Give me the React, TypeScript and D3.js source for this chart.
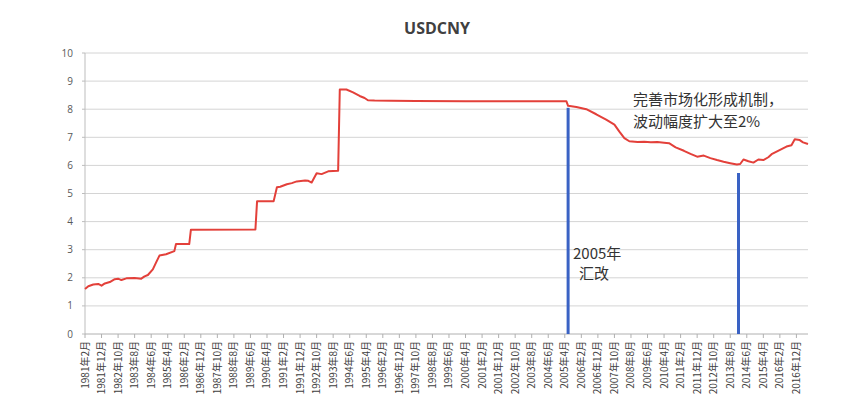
import { useMemo } from "react";
import { scaleLinear, line } from "d3";

const dates = [
  "1981-02", "1981-04", "1981-07", "1981-10", "1981-12", "1982-02", "1982-05", "1982-08",
  "1982-10", "1982-12", "1983-03", "1983-08", "1983-12", "1984-02", "1984-04", "1984-07",
  "1984-09", "1984-11", "1985-03", "1985-08", "1985-09", "1986-05", "1986-06", "1989-09",
  "1989-10", "1990-08", "1990-10", "1990-12", "1991-04", "1991-07", "1991-10", "1992-03",
  "1992-05", "1992-07", "1992-10", "1993-01", "1993-05", "1993-11", "1993-12", "1994-04",
  "1994-08", "1994-12", "1995-03", "1995-05", "1995-09", "1996-07", "1997-10", "2000-04",
  "2005-05", "2005-06", "2005-11", "2006-05", "2006-11", "2007-05", "2007-10", "2008-01",
  "2008-04", "2008-07", "2008-12", "2009-04", "2009-08", "2009-12", "2010-04", "2010-07",
  "2010-11", "2011-04", "2011-08", "2011-12", "2012-04", "2012-08", "2012-12", "2013-04",
  "2013-08", "2013-12", "2014-02", "2014-04", "2014-07", "2014-10", "2015-01", "2015-04",
  "2015-07", "2015-09", "2015-12", "2016-03", "2016-06", "2016-09", "2016-11", "2017-02",
  "2017-04", "2017-07",
];

const rates = [
  1.6, 1.7, 1.76, 1.78, 1.72, 1.8, 1.85, 1.95,
  1.97, 1.92, 1.98, 1.99, 1.97, 2.05, 2.1, 2.3,
  2.55, 2.79, 2.84, 2.95, 3.2, 3.2, 3.71, 3.72,
  4.72, 4.72, 5.22, 5.24, 5.33, 5.37, 5.43, 5.46,
  5.45, 5.39, 5.72, 5.69, 5.79, 5.81, 8.7, 8.7,
  8.6, 8.47, 8.4, 8.32, 8.31, 8.3, 8.29, 8.28,
  8.28, 8.12, 8.08, 8.0, 7.82, 7.63, 7.45, 7.2,
  6.97, 6.86, 6.83, 6.84, 6.82, 6.83, 6.81, 6.79,
  6.64, 6.52, 6.41, 6.31, 6.35, 6.26, 6.19, 6.13,
  6.08, 6.03, 6.05, 6.21, 6.15, 6.1, 6.21, 6.19,
  6.29, 6.4, 6.49, 6.58, 6.67, 6.72, 6.93, 6.9,
  6.82, 6.76,
];

const tickLabels = [
  "1981年2月", "1981年12月", "1982年10月", "1983年8月", "1984年6月", "1985年4月",
  "1986年2月", "1986年12月", "1987年10月", "1988年8月", "1989年6月", "1990年4月",
  "1991年2月", "1991年12月", "1992年10月", "1993年8月", "1994年6月", "1995年4月",
  "1996年2月", "1996年12月", "1997年10月", "1998年8月", "1999年6月", "2000年4月",
  "2001年2月", "2001年12月", "2002年10月", "2003年8月", "2004年6月", "2005年4月",
  "2006年2月", "2006年12月", "2007年10月", "2008年8月", "2009年6月", "2010年4月",
  "2011年2月", "2011年12月", "2012年10月", "2013年8月", "2014年6月", "2015年4月",
  "2016年2月", "2016年12月",
];

const yTicks = [0, 1, 2, 3, 4, 5, 6, 7, 8, 9, 10];

// vertical event markers
const markerDates = ["2005-06", "2014-01"];
const markerTops = [8.05, 5.73];

const title = "USDCNY";
const noteReform = ["2005年", "汇改"];
const noteBand = ["完善市场化形成机制，", "波动幅度扩大至2%"];

const W = 858;
const H = 410;
const M = { left: 85, right: 808, top: 53, bottom: 334 };
const LAST_MONTH = 437;

const CJK = "'Noto Sans CJK SC', 'Open Sans', sans-serif";

function monthIndex(s: string) {
  const m = s.match(/(\d{4})\D(\d{1,2})/);
  if (!m) return 0;
  return (+m[1] - 1981) * 12 + (+m[2] - 2);
}

export default function App() {
  const x = useMemo(
    () => scaleLinear().domain([0, LAST_MONTH]).range([M.left, M.right]),
    []
  );
  const y = useMemo(
    () => scaleLinear().domain([0, 10]).range([M.bottom, M.top]),
    []
  );

  const pathD = useMemo(() => {
    const pts = dates.map((d, i) => [monthIndex(d), rates[i]] as [number, number]);
    return (
      line<[number, number]>()
        .x((d) => x(d[0]))
        .y((d) => y(d[1]))(pts) || ""
    );
  }, [x, y]);

  return (
    <svg
      width={W}
      height={H}
      style={{ position: "absolute", left: 0, top: 0, background: "#fff" }}
    >
      {/* title */}
      <text
        x={437}
        y={34}
        textAnchor="middle"
        fontFamily="'Open Sans', sans-serif"
        fontWeight={700}
        fontSize={16}
        fill="#404040"
      >
        {title}
      </text>

      {/* gridlines + y labels */}
      {yTicks.map((t) => (
        <g key={t}>
          {t > 0 && (
            <line
              x1={M.left}
              x2={M.right}
              y1={y(t)}
              y2={y(t)}
              stroke="#d4d4d4"
              strokeWidth={1}
            />
          )}
          <line x1={M.left - 3} x2={M.left} y1={y(t)} y2={y(t)} stroke="#bdbdbd" />
          <text
            x={M.left - 12}
            y={y(t) + 3.5}
            textAnchor="end"
            fontFamily="'Open Sans', sans-serif"
            fontSize={10}
            fill="#595959"
          >
            {t}
          </text>
        </g>
      ))}

      {/* axes */}
      <line x1={M.left} x2={M.left} y1={M.top} y2={M.bottom} stroke="#bdbdbd" />
      <line x1={M.left} x2={M.right} y1={M.bottom} y2={M.bottom} stroke="#b0b0b0" />

      {/* x ticks & rotated labels */}
      {tickLabels.map((lab) => {
        const tx = x(monthIndex(lab));
        return (
          <g key={lab}>
            <line x1={tx} x2={tx} y1={M.bottom} y2={M.bottom + 4} stroke="#b0b0b0" />
            <text
              transform={`translate(${tx + 3.5},${M.bottom + 7}) rotate(-90)`}
              textAnchor="end"
              fontFamily={CJK}
              fontSize={10}
              fill="#404040"
            >
              {lab}
            </text>
          </g>
        );
      })}

      {/* data line */}
      <path d={pathD} fill="none" stroke="#e3403a" strokeWidth={2} strokeLinejoin="round" />

      {/* event markers */}
      {markerDates.map((d, i) => (
        <line
          key={d}
          x1={x(monthIndex(d))}
          x2={x(monthIndex(d))}
          y1={y(markerTops[i])}
          y2={M.bottom}
          stroke="#3a62c4"
          strokeWidth={3}
        />
      ))}

      {/* annotations */}
      <text x={573} y={259} fontFamily={CJK} fontSize={15} fill="#333">
        {noteReform[0]}
      </text>
      <text x={579} y={279} fontFamily={CJK} fontSize={15} fill="#333">
        {noteReform[1]}
      </text>
      <text x={633} y={105} fontFamily={CJK} fontSize={15} fill="#333">
        {noteBand[0]}
      </text>
      <text x={633} y={127} fontFamily={CJK} fontSize={15} fill="#333">
        {noteBand[1]}
      </text>
    </svg>
  );
}
